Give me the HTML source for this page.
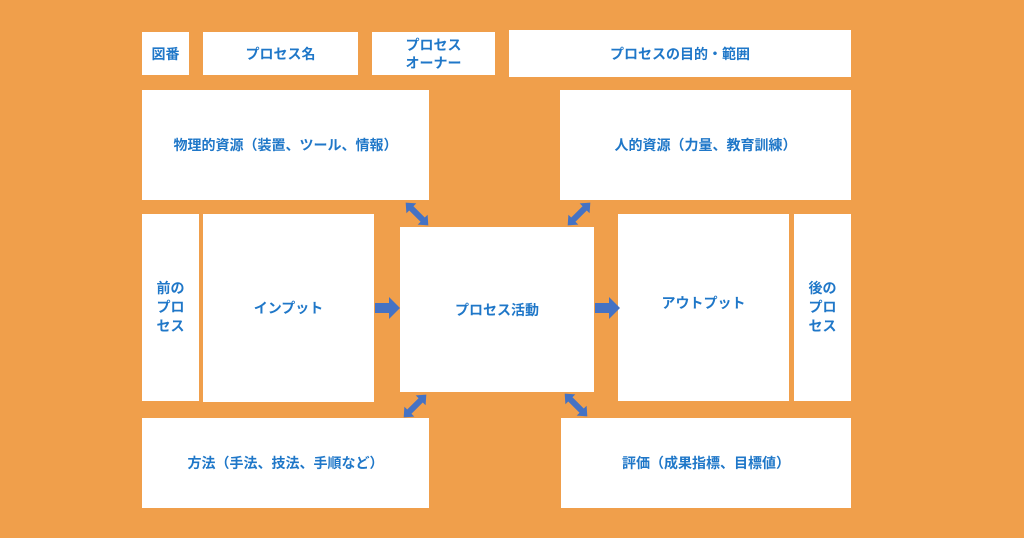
<!DOCTYPE html>
<html><head><meta charset="utf-8"><style>
body{margin:0;width:1024px;height:538px;background:#f09f4b;position:relative;overflow:hidden;font-family:"Liberation Sans","Noto Sans CJK JP",sans-serif}
.b{position:absolute;background:#fff;display:flex;align-items:center;justify-content:center;text-align:center;color:#1f77c8;font-weight:bold;font-size:14px;line-height:18px}
svg{position:absolute;left:0;top:0}
</style></head><body>
<div class="b" style="left:142px;top:32px;width:47px;height:43px">図番</div>
<div class="b" style="left:203px;top:32px;width:155px;height:43px">プロセス名</div>
<div class="b" style="left:372px;top:32px;width:123px;height:43px">プロセス<br>オーナー</div>
<div class="b" style="left:509px;top:30px;width:342px;height:47px">プロセスの目的・範囲</div>
<div class="b" style="left:142px;top:90px;width:287px;height:110px">物理的資源（装置、ツール、情報）</div>
<div class="b" style="left:560px;top:90px;width:291px;height:110px">人的資源（力量、教育訓練）</div>
<div class="b" style="left:142px;top:214px;width:57px;height:187px;line-height:19px">前の<br>プロ<br>セス</div>
<div class="b" style="left:203px;top:214px;width:171px;height:188px">インプット</div>
<div class="b" style="left:400px;top:227px;width:194px;height:165px">プロセス活動</div>
<div class="b" style="left:618px;top:214px;width:171px;height:187px;padding-bottom:10px;box-sizing:border-box">アウトプット</div>
<div class="b" style="left:794px;top:214px;width:57px;height:187px;line-height:19px">後の<br>プロ<br>セス</div>
<div class="b" style="left:142px;top:418px;width:287px;height:90px">方法（手法、技法、手順など）</div>
<div class="b" style="left:561px;top:418px;width:290px;height:90px">評価（成果指標、目標値）</div>
<svg width="1024" height="538">
<defs><polygon id="d" points="-16,0 -8,-7 -8,-3 8,-3 8,-7 16,0 8,7 8,3 -8,3 -8,7" fill="#4472c4"/></defs>
<polygon points="375,303 389,303 389,297 400,308 389,319 389,313 375,313" fill="#4472c4"/>
<polygon points="595,303 609,303 609,297 620,308 609,319 609,313 595,313" fill="#4472c4"/>
<use href="#d" transform="translate(417,214) rotate(45)"/>
<use href="#d" transform="translate(579,214) rotate(-45)"/>
<use href="#d" transform="translate(415,406) rotate(-45)"/>
<use href="#d" transform="translate(576,405) rotate(45)"/>
</svg>
</body></html>
